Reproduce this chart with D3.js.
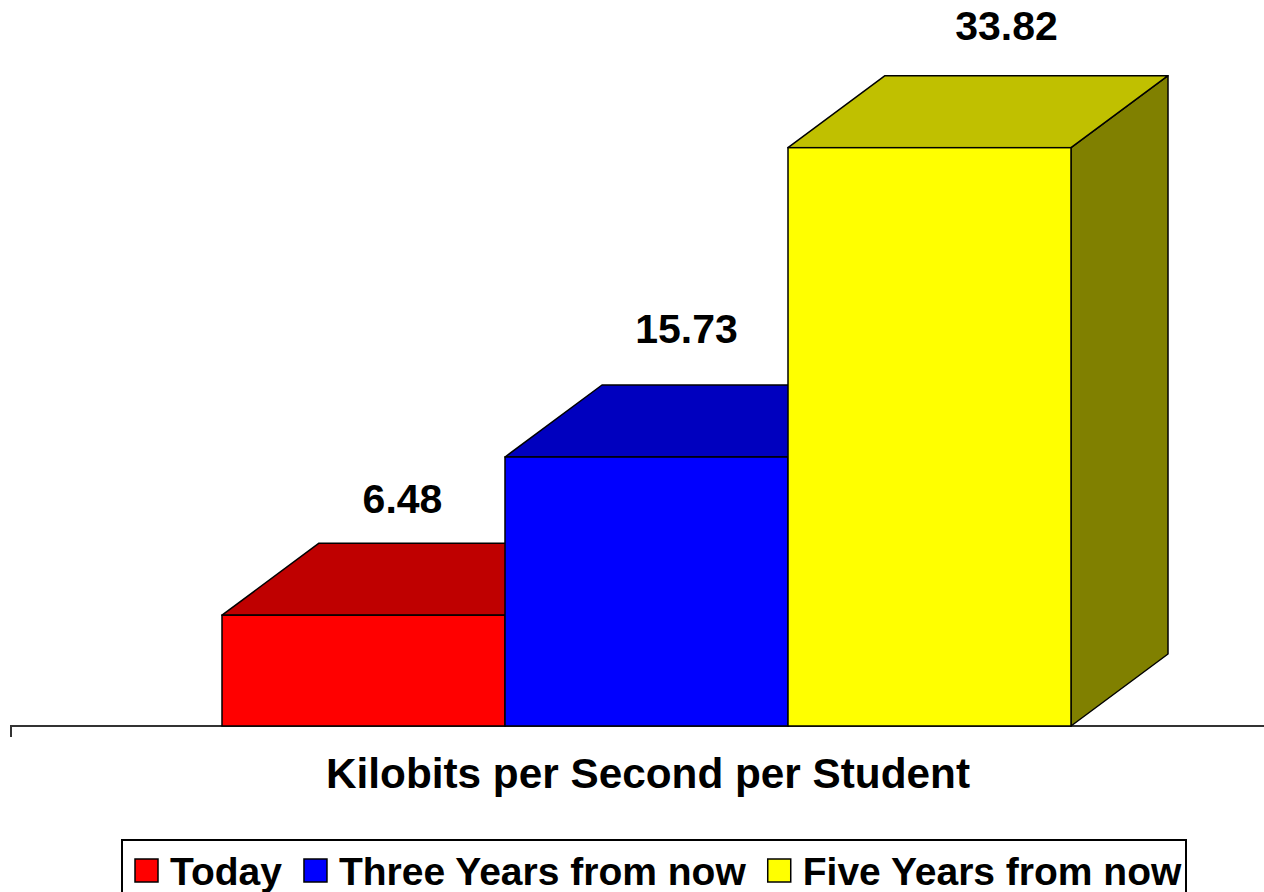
<html lang="en">

<head>
  <meta http-equiv="Content-Type" content="text/html; charset=UTF-8">
  <title>Kilobits per Second per Student</title>
  <script type="text/javascript" src="https://cdn.jsdelivr.net/npm/d3@7"></script>
  <style type="text/css">
    body { margin: 0; background: #fff; }
    text { font-family: "Liberation Sans", Arial, sans-serif; font-weight: bold; }
  </style>
</head>

<body>
  <script type="text/javascript">
    // chart data
    var categories = ["Today", "Three Years from now", "Five Years from now"];
    var values = [6.48, 15.73, 33.82];
    var valueLabels = ["6.48", "15.73", "33.82"];
    var axisTitle = "Kilobits per Second per Student";

    var frontColors = ["#ff0000", "#0000ff", "#ffff00"];
    var topColors = ["#bf0000", "#0000bf", "#c0c000"];
    var sideColors = ["#800000", "#000080", "#808000"];

    var width = 1264, height = 892;
    var base = 726;
    var depthX = 97, depthY = 72;
    // small nudges so labels sit like the original
    var labelNudgeX = [-1, 0, 37];
    var labelNudgeY = [6, -6, 0];

    var svg = d3.select("body").append("svg").attr("width", width).attr("height", height);

    var x = d3.scaleBand()
      .domain(categories)
      .range([222, 1071])
      .padding(0);

    var y = d3.scaleLinear()
      .domain([0, 40])
      .range([base, 42]);

    // axis line with the single left tick
    svg.append("path")
      .attr("d", "M11,737V" + base + "H" + width)
      .attr("fill", "none")
      .attr("stroke", "#333")
      .attr("stroke-width", 2);

    var bars = svg.selectAll("g.bar").data(values).enter().append("g").attr("class", "bar");

    bars.append("path")
      .attr("d", function(d, i) {
        var x1 = x(categories[i]) + x.bandwidth();
        return "M" + x1 + "," + base + "L" + (x1 + depthX) + "," + (base - depthY) +
          "L" + (x1 + depthX) + "," + (y(d) - depthY) + "L" + x1 + "," + y(d) + "Z";
      })
      .attr("fill", function(d, i) { return sideColors[i]; })
      .attr("stroke", "#000").attr("stroke-width", 1.5).attr("stroke-linejoin", "round");

    bars.append("path")
      .attr("d", function(d, i) {
        var x0 = x(categories[i]), x1 = x0 + x.bandwidth();
        return "M" + x0 + "," + y(d) + "L" + (x0 + depthX) + "," + (y(d) - depthY) +
          "L" + (x1 + depthX) + "," + (y(d) - depthY) + "L" + x1 + "," + y(d) + "Z";
      })
      .attr("fill", function(d, i) { return topColors[i]; })
      .attr("stroke", "#000").attr("stroke-width", 1.5).attr("stroke-linejoin", "round");

    bars.append("rect")
      .attr("x", function(d, i) { return x(categories[i]); })
      .attr("y", function(d) { return y(d); })
      .attr("width", x.bandwidth())
      .attr("height", function(d) { return base - y(d); })
      .attr("fill", function(d, i) { return frontColors[i]; })
      .attr("stroke", "#000").attr("stroke-width", 1.5);

    svg.selectAll("text.val").data(values).enter().append("text")
      .attr("class", "val")
      .attr("x", function(d, i) { return x(categories[i]) + x.bandwidth() / 2 + 40 + labelNudgeX[i]; })
      .attr("y", function(d, i) { return y(d) - depthY - 36 + labelNudgeY[i]; })
      .attr("text-anchor", "middle")
      .style("font-size", "41px")
      .text(function(d, i) { return valueLabels[i]; });

    svg.append("text")
      .attr("x", 648)
      .attr("y", 788)
      .attr("text-anchor", "middle")
      .attr("textLength", 644)
      .attr("lengthAdjust", "spacingAndGlyphs")
      .style("font-size", "42px")
      .text(axisTitle);

    // legend
    var legend = svg.append("g");
    legend.append("rect")
      .attr("x", 122).attr("y", 840)
      .attr("width", 1064).attr("height", 70)
      .attr("fill", "#fff").attr("stroke", "#000").attr("stroke-width", 2);

    var lx = 135;
    for (var i = 0; i < categories.length; i++) {
      legend.append("rect")
        .attr("x", lx).attr("y", 859)
        .attr("width", 23).attr("height", 23)
        .attr("fill", frontColors[i]).attr("stroke", "#000").attr("stroke-width", 1.5);
      var t = legend.append("text")
        .attr("x", lx + 35).attr("y", 885)
        .style("font-size", "39px")
        .text(categories[i]);
      lx = lx + 35 + t.node().getComputedTextLength() + 22;
    }
  </script>
</body>

</html>
